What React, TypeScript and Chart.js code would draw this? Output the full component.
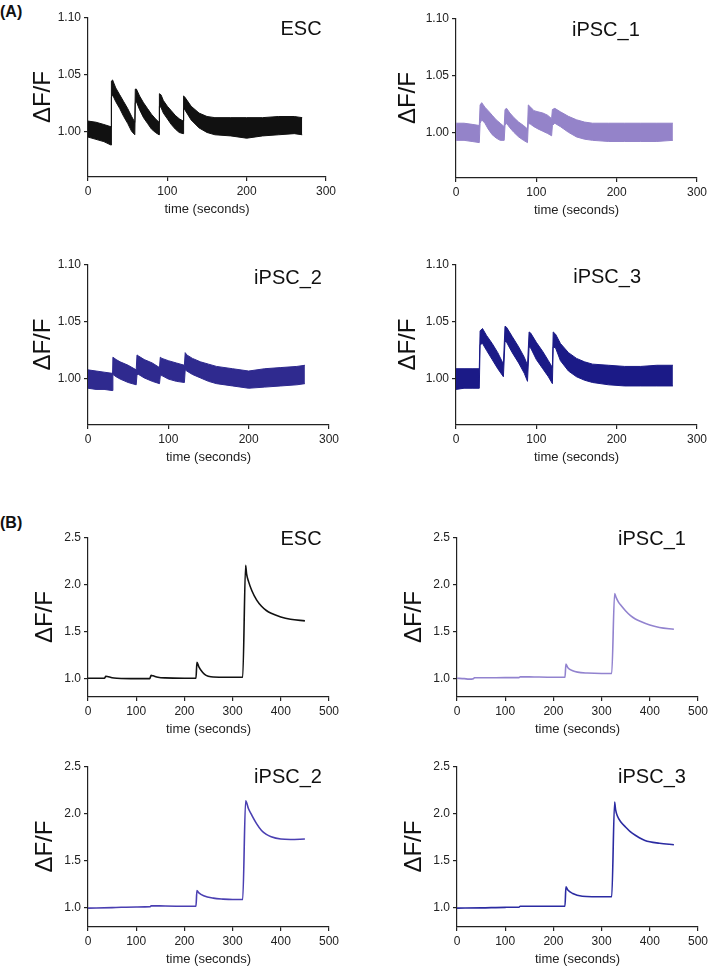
import React, { useEffect, useRef } from "react";
import { Chart, registerables } from "chart.js";

Chart.register(...registerables);

const FONT = "'Liberation Sans', Arial, Helvetica, sans-serif";
const AXIS = "#222222";

// ---------- Tick labels ----------
const xTicksA = [0, 100, 200, 300];
const yTicksA = [1.0, 1.05, 1.1];
const xTicksB = [0, 100, 200, 300, 400, 500];
const yTicksB = [1.0, 1.5, 2.0, 2.5];

// ---------- Panel names ----------
const cellLines = ["ESC", "iPSC_1", "iPSC_2", "iPSC_3"];
const colorsA = ["#111111", "#9483c9", "#2f2a8f", "#1b1a87"];
const colorsB = ["#111111", "#9283cf", "#4a3fb2", "#2b2ba2"];

// ---------- (A) noisy traces: upper / lower envelope of the noise band ----------
const escA_t = [0, 10, 20, 29, 29.5, 31, 35, 40, 45, 50, 55, 59, 59.6, 61, 65, 70, 75, 80, 85, 89.5, 90, 92, 95, 100, 105, 110, 115, 120, 120.5, 122, 130, 140, 150, 160, 180, 200, 220, 240, 260, 270];
const escA_hi = [1.009, 1.008, 1.006, 1.004, 1.044, 1.045, 1.038, 1.032, 1.026, 1.02, 1.013, 1.008, 1.037, 1.037, 1.031, 1.025, 1.02, 1.015, 1.011, 1.008, 1.033, 1.032, 1.027, 1.022, 1.018, 1.014, 1.011, 1.009, 1.031, 1.03, 1.022, 1.016, 1.013, 1.012, 1.012, 1.012, 1.012, 1.013, 1.013, 1.012];
const escA_lo = [0.995, 0.993, 0.991, 0.988, 1.03, 1.032, 1.026, 1.02, 1.013, 1.007, 1.0, 0.997, 1.025, 1.026, 1.019, 1.012, 1.007, 1.002, 0.999, 0.997, 1.022, 1.021, 1.016, 1.011, 1.006, 1.002, 0.999, 0.998, 1.02, 1.019, 1.01, 1.003, 0.999, 0.997, 0.996, 0.994, 0.996, 0.997, 0.998, 0.997];

const ipsc1A_t = [0, 10, 20, 29, 30, 32, 36, 40, 45, 50, 55, 60, 61, 63, 67, 72, 78, 84, 89, 90, 93, 97, 102, 108, 114, 119, 120, 123, 130, 140, 150, 160, 170, 190, 210, 230, 250, 270];
const ipsc1A_hi = [1.008, 1.008, 1.007, 1.006, 1.024, 1.026, 1.022, 1.019, 1.015, 1.011, 1.008, 1.005, 1.02, 1.021, 1.017, 1.013, 1.009, 1.006, 1.003, 1.024, 1.022, 1.019, 1.018, 1.017, 1.015, 1.012, 1.02, 1.021, 1.018, 1.014, 1.011, 1.009, 1.008, 1.008, 1.008, 1.008, 1.008, 1.008];
const ipsc1A_lo = [0.993, 0.993, 0.992, 0.991, 1.008, 1.011, 1.008, 1.003, 0.998, 0.995, 0.993, 0.993, 1.006, 1.008, 1.004, 1.0, 0.996, 0.993, 0.991, 1.008, 1.007, 1.005, 1.003, 1.001, 0.999, 0.997, 1.006, 1.008, 1.005, 1.0, 0.996, 0.994, 0.993, 0.992, 0.992, 0.992, 0.992, 0.993];

const ipsc2A_t = [0, 10, 20, 30, 31, 35, 40, 50, 60, 61, 63, 70, 80, 89, 90, 92, 100, 110, 120, 121, 123, 130, 140, 150, 160, 180, 200, 220, 240, 260, 270];
const ipsc2A_hi = [1.008, 1.007, 1.006, 1.005, 1.019, 1.017, 1.015, 1.012, 1.008, 1.021, 1.02, 1.017, 1.014, 1.01, 1.019, 1.018, 1.016, 1.014, 1.012, 1.023, 1.021, 1.018, 1.015, 1.013, 1.011, 1.009, 1.007, 1.009, 1.01, 1.011, 1.012];
const ipsc2A_lo = [0.992, 0.991, 0.991, 0.99, 1.004, 1.002, 1.0, 0.997, 0.995, 1.004, 1.004, 1.001, 0.998, 0.996, 1.003, 1.003, 1.0, 0.998, 0.997, 1.008, 1.007, 1.004, 1.001, 0.998, 0.996, 0.994, 0.992, 0.993, 0.994, 0.995, 0.996];

const ipsc3A_t = [0, 10, 20, 29, 30, 33, 38, 45, 52, 59, 61, 63, 70, 78, 85, 89, 91, 93, 100, 108, 115, 120, 121, 124, 130, 140, 150, 160, 170, 190, 210, 230, 250, 270];
const ipsc3A_hi = [1.009, 1.009, 1.009, 1.009, 1.042, 1.044, 1.038, 1.031, 1.023, 1.013, 1.046, 1.045, 1.037, 1.028, 1.019, 1.012, 1.041, 1.04, 1.032, 1.024, 1.016, 1.01, 1.041, 1.039, 1.031, 1.023, 1.018, 1.015, 1.013, 1.012, 1.011, 1.011, 1.012, 1.012];
const ipsc3A_lo = [0.991, 0.992, 0.992, 0.992, 1.03, 1.031, 1.025, 1.017, 1.009, 1.002, 1.033, 1.032, 1.023, 1.014, 1.005, 0.998, 1.028, 1.027, 1.017, 1.009, 1.002, 0.996, 1.028, 1.027, 1.016, 1.007, 1.002, 0.999, 0.997, 0.995, 0.994, 0.994, 0.994, 0.994];

// ---------- (B) smooth traces ----------
const escB_t = [0, 20, 34, 37, 40, 50, 60, 100, 128, 131, 135, 145, 160, 200, 224, 226, 230, 238, 245, 255, 280, 321, 327, 329, 333, 340, 350, 360, 370, 380, 400, 420, 450];
const escB_y = [1.0, 1.0, 1.0, 1.02, 1.018, 1.005, 1.0, 0.995, 0.995, 1.03, 1.025, 1.01, 1.003, 1.0, 1.0, 1.17, 1.12, 1.06, 1.03, 1.015, 1.01, 1.01, 2.2, 2.11, 2.03, 1.93, 1.83, 1.765, 1.72, 1.69, 1.652, 1.628, 1.61];

const ipsc1B_t = [0, 15, 25, 34, 36, 60, 100, 129, 131, 160, 200, 224, 226, 230, 240, 250, 270, 300, 321, 327, 330, 335, 340, 350, 360, 370, 380, 400, 420, 450];
const ipsc1B_y = [1.0, 0.995, 0.99, 0.995, 1.005, 1.005, 1.006, 1.006, 1.016, 1.013, 1.01, 1.01, 1.15, 1.11, 1.08, 1.065, 1.055, 1.05, 1.05, 1.9, 1.86, 1.81, 1.775, 1.715, 1.665, 1.63, 1.605, 1.565, 1.54, 1.52];

const ipsc2B_t = [0, 50, 100, 129, 131, 160, 200, 224, 226, 230, 240, 260, 280, 300, 321, 327, 333, 340, 350, 360, 370, 380, 400, 420, 450];
const ipsc2B_y = [1.0, 1.005, 1.012, 1.015, 1.025, 1.022, 1.02, 1.02, 1.185, 1.16, 1.13, 1.105, 1.095, 1.09, 1.09, 2.135, 2.05, 1.98, 1.89, 1.82, 1.78, 1.755, 1.73, 1.725, 1.73];

const ipsc3B_t = [0, 50, 100, 129, 131, 180, 224, 226, 230, 240, 260, 280, 321, 327, 329, 333, 340, 350, 360, 370, 390, 420, 450];
const ipsc3B_y = [1.0, 1.002, 1.008, 1.01, 1.02, 1.02, 1.02, 1.225, 1.19, 1.155, 1.125, 1.12, 1.12, 2.12, 2.04, 1.97, 1.91, 1.855, 1.805, 1.77, 1.715, 1.685, 1.67];

// ---------- layout ----------
const Y_AXIS_W = 64;
const X_AXIS_H = 40;
const PAD_T = 10;
const PAD_R = 16;

type PanelSpec = {
  name: string;
  color: string;
  t: number[];
  hi?: number[];
  lo?: number[];
  y?: number[];
  xMax: number;
  yMin: number;
  yMax: number;
  xTicks: number[];
  yTicks: number[];
  dec: number;
  area: { left: number; top: number; width: number; height: number };
  label: { fx: number; fy: number };
  titlePad: number;
};

const zip = (xs: number[], ys: number[]) => xs.map((x, i) => ({ x, y: ys[i] }));

const panels: PanelSpec[] = [
  { name: cellLines[0], color: colorsA[0], t: escA_t, hi: escA_hi, lo: escA_lo, xMax: 300, yMin: 0.96, yMax: 1.1, xTicks: xTicksA, yTicks: yTicksA, dec: 2,
    area: { left: 88, top: 17, width: 238, height: 160 }, label: { fx: 0.895, fy: 0.075 }, titlePad: 7 },
  { name: cellLines[1], color: colorsA[1], t: ipsc1A_t, hi: ipsc1A_hi, lo: ipsc1A_lo, xMax: 300, yMin: 0.96, yMax: 1.1, xTicks: xTicksA, yTicks: yTicksA, dec: 2,
    area: { left: 456, top: 18, width: 241, height: 160 }, label: { fx: 0.622, fy: 0.075 }, titlePad: 4 },
  { name: cellLines[2], color: colorsA[2], t: ipsc2A_t, hi: ipsc2A_hi, lo: ipsc2A_lo, xMax: 300, yMin: 0.96, yMax: 1.1, xTicks: xTicksA, yTicks: yTicksA, dec: 2,
    area: { left: 88, top: 264, width: 241, height: 161 }, label: { fx: 0.83, fy: 0.087 }, titlePad: 7 },
  { name: cellLines[3], color: colorsA[3], t: ipsc3A_t, hi: ipsc3A_hi, lo: ipsc3A_lo, xMax: 300, yMin: 0.96, yMax: 1.1, xTicks: xTicksA, yTicks: yTicksA, dec: 2,
    area: { left: 456, top: 264, width: 241, height: 161 }, label: { fx: 0.627, fy: 0.081 }, titlePad: 4 },
  { name: cellLines[0], color: colorsB[0], t: escB_t, y: escB_y, xMax: 500, yMin: 0.8, yMax: 2.5, xTicks: xTicksB, yTicks: yTicksB, dec: 1,
    area: { left: 88, top: 537, width: 241, height: 160 }, label: { fx: 0.884, fy: 0.0125 }, titlePad: 9 },
  { name: cellLines[1], color: colorsB[1], t: ipsc1B_t, y: ipsc1B_y, xMax: 500, yMin: 0.8, yMax: 2.5, xTicks: xTicksB, yTicks: yTicksB, dec: 1,
    area: { left: 457, top: 537, width: 241, height: 160 }, label: { fx: 0.809, fy: 0.0125 }, titlePad: 9 },
  { name: cellLines[2], color: colorsB[2], t: ipsc2B_t, y: ipsc2B_y, xMax: 500, yMin: 0.8, yMax: 2.5, xTicks: xTicksB, yTicks: yTicksB, dec: 1,
    area: { left: 88, top: 766, width: 241, height: 161 }, label: { fx: 0.83, fy: 0.068 }, titlePad: 9 },
  { name: cellLines[3], color: colorsB[3], t: ipsc3B_t, y: ipsc3B_y, xMax: 500, yMin: 0.8, yMax: 2.5, xTicks: xTicksB, yTicks: yTicksB, dec: 1,
    area: { left: 457, top: 766, width: 241, height: 161 }, label: { fx: 0.809, fy: 0.068 }, titlePad: 9 },
];

const labelPlugin = {
  id: "panelLabel",
  afterDraw(chart: any, _args: any, opts: any) {
    const { ctx, chartArea } = chart;
    ctx.save();
    ctx.font = `20px ${FONT}`;
    ctx.fillStyle = "#111111";
    ctx.textAlign = "center";
    ctx.textBaseline = "middle";
    ctx.fillText(
      opts.text,
      chartArea.left + opts.fx * (chartArea.right - chartArea.left),
      chartArea.top + opts.fy * (chartArea.bottom - chartArea.top)
    );
    ctx.restore();
  },
};

function Panel({ p }: { p: PanelSpec }) {
  const ref = useRef<HTMLCanvasElement | null>(null);
  const w = Y_AXIS_W + p.area.width + PAD_R;
  const h = PAD_T + p.area.height + X_AXIS_H;
  const left = p.area.left - Y_AXIS_W;
  const top = p.area.top - PAD_T;

  useEffect(() => {
    if (!ref.current) return;
    const datasets: any[] = p.hi
      ? [
          { data: zip(p.t, p.hi!), borderColor: p.color, borderWidth: 1, pointRadius: 0, fill: false },
          { data: zip(p.t, p.lo!), borderColor: p.color, borderWidth: 1, pointRadius: 0, fill: "-1", backgroundColor: p.color },
        ]
      : [
          { data: zip(p.t, p.y!), borderColor: p.color, borderWidth: 1.6, pointRadius: 0, fill: false, cubicInterpolationMode: "monotone" },
        ];
    const chart = new Chart(ref.current, {
      type: "line",
      data: { datasets },
      plugins: [labelPlugin as any],
      options: {
        responsive: false,
        animation: false,
        devicePixelRatio: 1,
        layout: { padding: { top: PAD_T, right: PAD_R, left: 0, bottom: 0 } },
        plugins: {
          legend: { display: false },
          tooltip: { enabled: false },
          panelLabel: { text: p.name, fx: p.label.fx, fy: p.label.fy },
        } as any,
        scales: {
          x: {
            type: "linear",
            min: 0,
            max: p.xMax,
            afterBuildTicks: (s: any) => {
              s.ticks = p.xTicks.map((v) => ({ value: v }));
            },
            afterFit: (s: any) => {
              s.height = X_AXIS_H;
            },
            ticks: {
              color: AXIS,
              font: { size: 12, family: FONT },
              padding: 3,
              maxRotation: 0,
              autoSkip: false,
              callback: (v: any) => String(v),
            },
            grid: { display: true, drawOnChartArea: false, drawTicks: true, tickLength: 4, color: AXIS, lineWidth: 1.2 },
            border: { display: true, color: AXIS, width: 1.2 },
            title: {
              display: true,
              text: "time (seconds)",
              color: AXIS,
              font: { size: 13, family: FONT, lineHeight: 1 },
              padding: { top: 0, bottom: 1.5 },
            },
          },
          y: {
            type: "linear",
            min: p.yMin,
            max: p.yMax,
            afterBuildTicks: (s: any) => {
              s.ticks = p.yTicks.map((v) => ({ value: v }));
            },
            afterFit: (s: any) => {
              s.width = Y_AXIS_W;
            },
            ticks: {
              color: AXIS,
              font: { size: 12, family: FONT },
              padding: 3,
              autoSkip: false,
              callback: (v: any) => Number(v).toFixed(p.dec),
            },
            grid: { display: true, drawOnChartArea: false, drawTicks: true, tickLength: 4, color: AXIS, lineWidth: 1.2 },
            border: { display: true, color: AXIS, width: 1.2 },
            title: {
              display: true,
              text: "ΔF/F",
              color: "#111111",
              font: { size: 24, family: FONT, lineHeight: 1 },
              padding: { top: p.titlePad, bottom: 0 },
            },
          },
        },
      } as any,
    });
    return () => chart.destroy();
  }, []);

  return (
    <canvas
      ref={ref}
      width={w}
      height={h}
      style={{ position: "absolute", left, top, width: w, height: h }}
    />
  );
}

export default function App() {
  const tag: React.CSSProperties = {
    position: "absolute",
    left: 0,
    fontFamily: FONT,
    fontWeight: "bold",
    fontSize: 16,
    lineHeight: "16px",
    color: "#111",
  };
  return (
    <div style={{ position: "absolute", left: 0, top: 0, width: 709, height: 968, background: "#fff", overflow: "hidden" }}>
      <div style={{ ...tag, top: 4 }}>(A)</div>
      <div style={{ ...tag, top: 515 }}>(B)</div>
      {panels.map((p, i) => (
        <Panel key={i} p={p} />
      ))}
    </div>
  );
}
